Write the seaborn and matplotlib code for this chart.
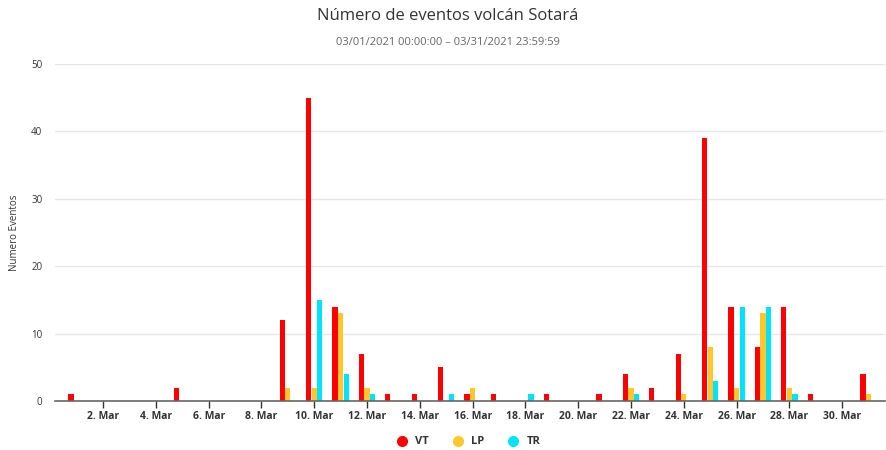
import matplotlib
matplotlib.use("Agg")
import matplotlib.pyplot as plt
from matplotlib.lines import Line2D
import pandas as pd
import seaborn as sns

# Daily event counts, March 2021
days = list(range(1, 32))
vt = [1, 0, 0, 0, 2, 0, 0, 0, 12, 45, 14, 7, 1, 1, 5, 1, 1, 0, 1, 0,
      1, 4, 2, 7, 39, 14, 8, 14, 1, 0, 4]
lp = [0, 0, 0, 0, 0, 0, 0, 0, 2, 2, 13, 2, 0, 0, 0, 2, 0, 0, 0, 0,
      0, 2, 0, 1, 8, 2, 13, 2, 0, 0, 1]
tr = [0, 0, 0, 0, 0, 0, 0, 0, 0, 15, 4, 1, 0, 0, 1, 0, 0, 1, 0, 0,
      0, 1, 0, 0, 3, 14, 14, 1, 0, 0, 0]
series_names = ["VT", "LP", "TR"]
colors = {"VT": "#FF0000", "LP": "#FFC72C", "TR": "#00E3FF"}
tick_days = list(range(2, 31, 2))
tick_labels = [f"{d}. Mar" for d in tick_days]

df = pd.DataFrame({
    "day": days * 3,
    "tipo": ["VT"] * 31 + ["LP"] * 31 + ["TR"] * 31,
    "eventos": vt + lp + tr,
})

sns.set_theme(style="white")
plt.rcParams["font.family"] = ["Open Sans", "DejaVu Sans"]

fig = plt.figure(figsize=(8.87, 4.5), dpi=100)
ax = fig.add_axes([55 / 887, 49 / 450, 830 / 887, 337 / 450])

sns.barplot(data=df, x="day", y="eventos", hue="tipo", hue_order=series_names,
            palette=colors, native_scale=True, width=0.64, gap=0.08,
            linewidth=0, saturation=1, legend=False, ax=ax)

ax.set_xlim(0.18, 31.62)
ax.set_ylim(0, 50)
ax.set_yticks(range(0, 51, 10))
ax.yaxis.grid(True, color="#e6e6e6", linewidth=1)
ax.set_axisbelow(True)
ax.set_xticks(tick_days)
ax.set_xticklabels(tick_labels, fontsize=7.5, fontweight="bold", color="#333333")
ax.tick_params(axis="x", length=5, width=1, color="#333333", pad=2, bottom=True)
ax.tick_params(axis="y", length=0, labelsize=7, labelcolor="#333333", pad=9)
for lbl in ax.get_yticklabels():
    lbl.set_horizontalalignment("right")
for side in ["top", "right", "left"]:
    ax.spines[side].set_visible(False)
ax.spines["bottom"].set_color("#666666")
ax.spines["bottom"].set_linewidth(1.2)
ax.set_xlabel("")
ax.set_ylabel("Numero Eventos", fontsize=7, color="#333333")
ax.yaxis.set_label_coords(-35 / 830, 0.5)

fig.text(0.505, 0.965, "Número de eventos volcán Sotará", ha="center", va="center",
         fontsize=12, color="#333333")
fig.text(0.505, 0.905, "03/01/2021 00:00:00 – 03/31/2021 23:59:59", ha="center",
         va="center", fontsize=8, color="#666666")

handles = [Line2D([0], [0], marker="o", linestyle="", markersize=8,
                  markerfacecolor=colors[n], markeredgewidth=0, label=n)
           for n in series_names]
leg = fig.legend(handles=handles, loc="center", bbox_to_anchor=(0.525, 0.018),
                 ncol=3, frameon=False, handletextpad=0.2, columnspacing=1.6,
                 prop={"size": 8, "weight": "bold"})
for t in leg.get_texts():
    t.set_color("#333333")

fig.savefig("out.png", dpi=100)
